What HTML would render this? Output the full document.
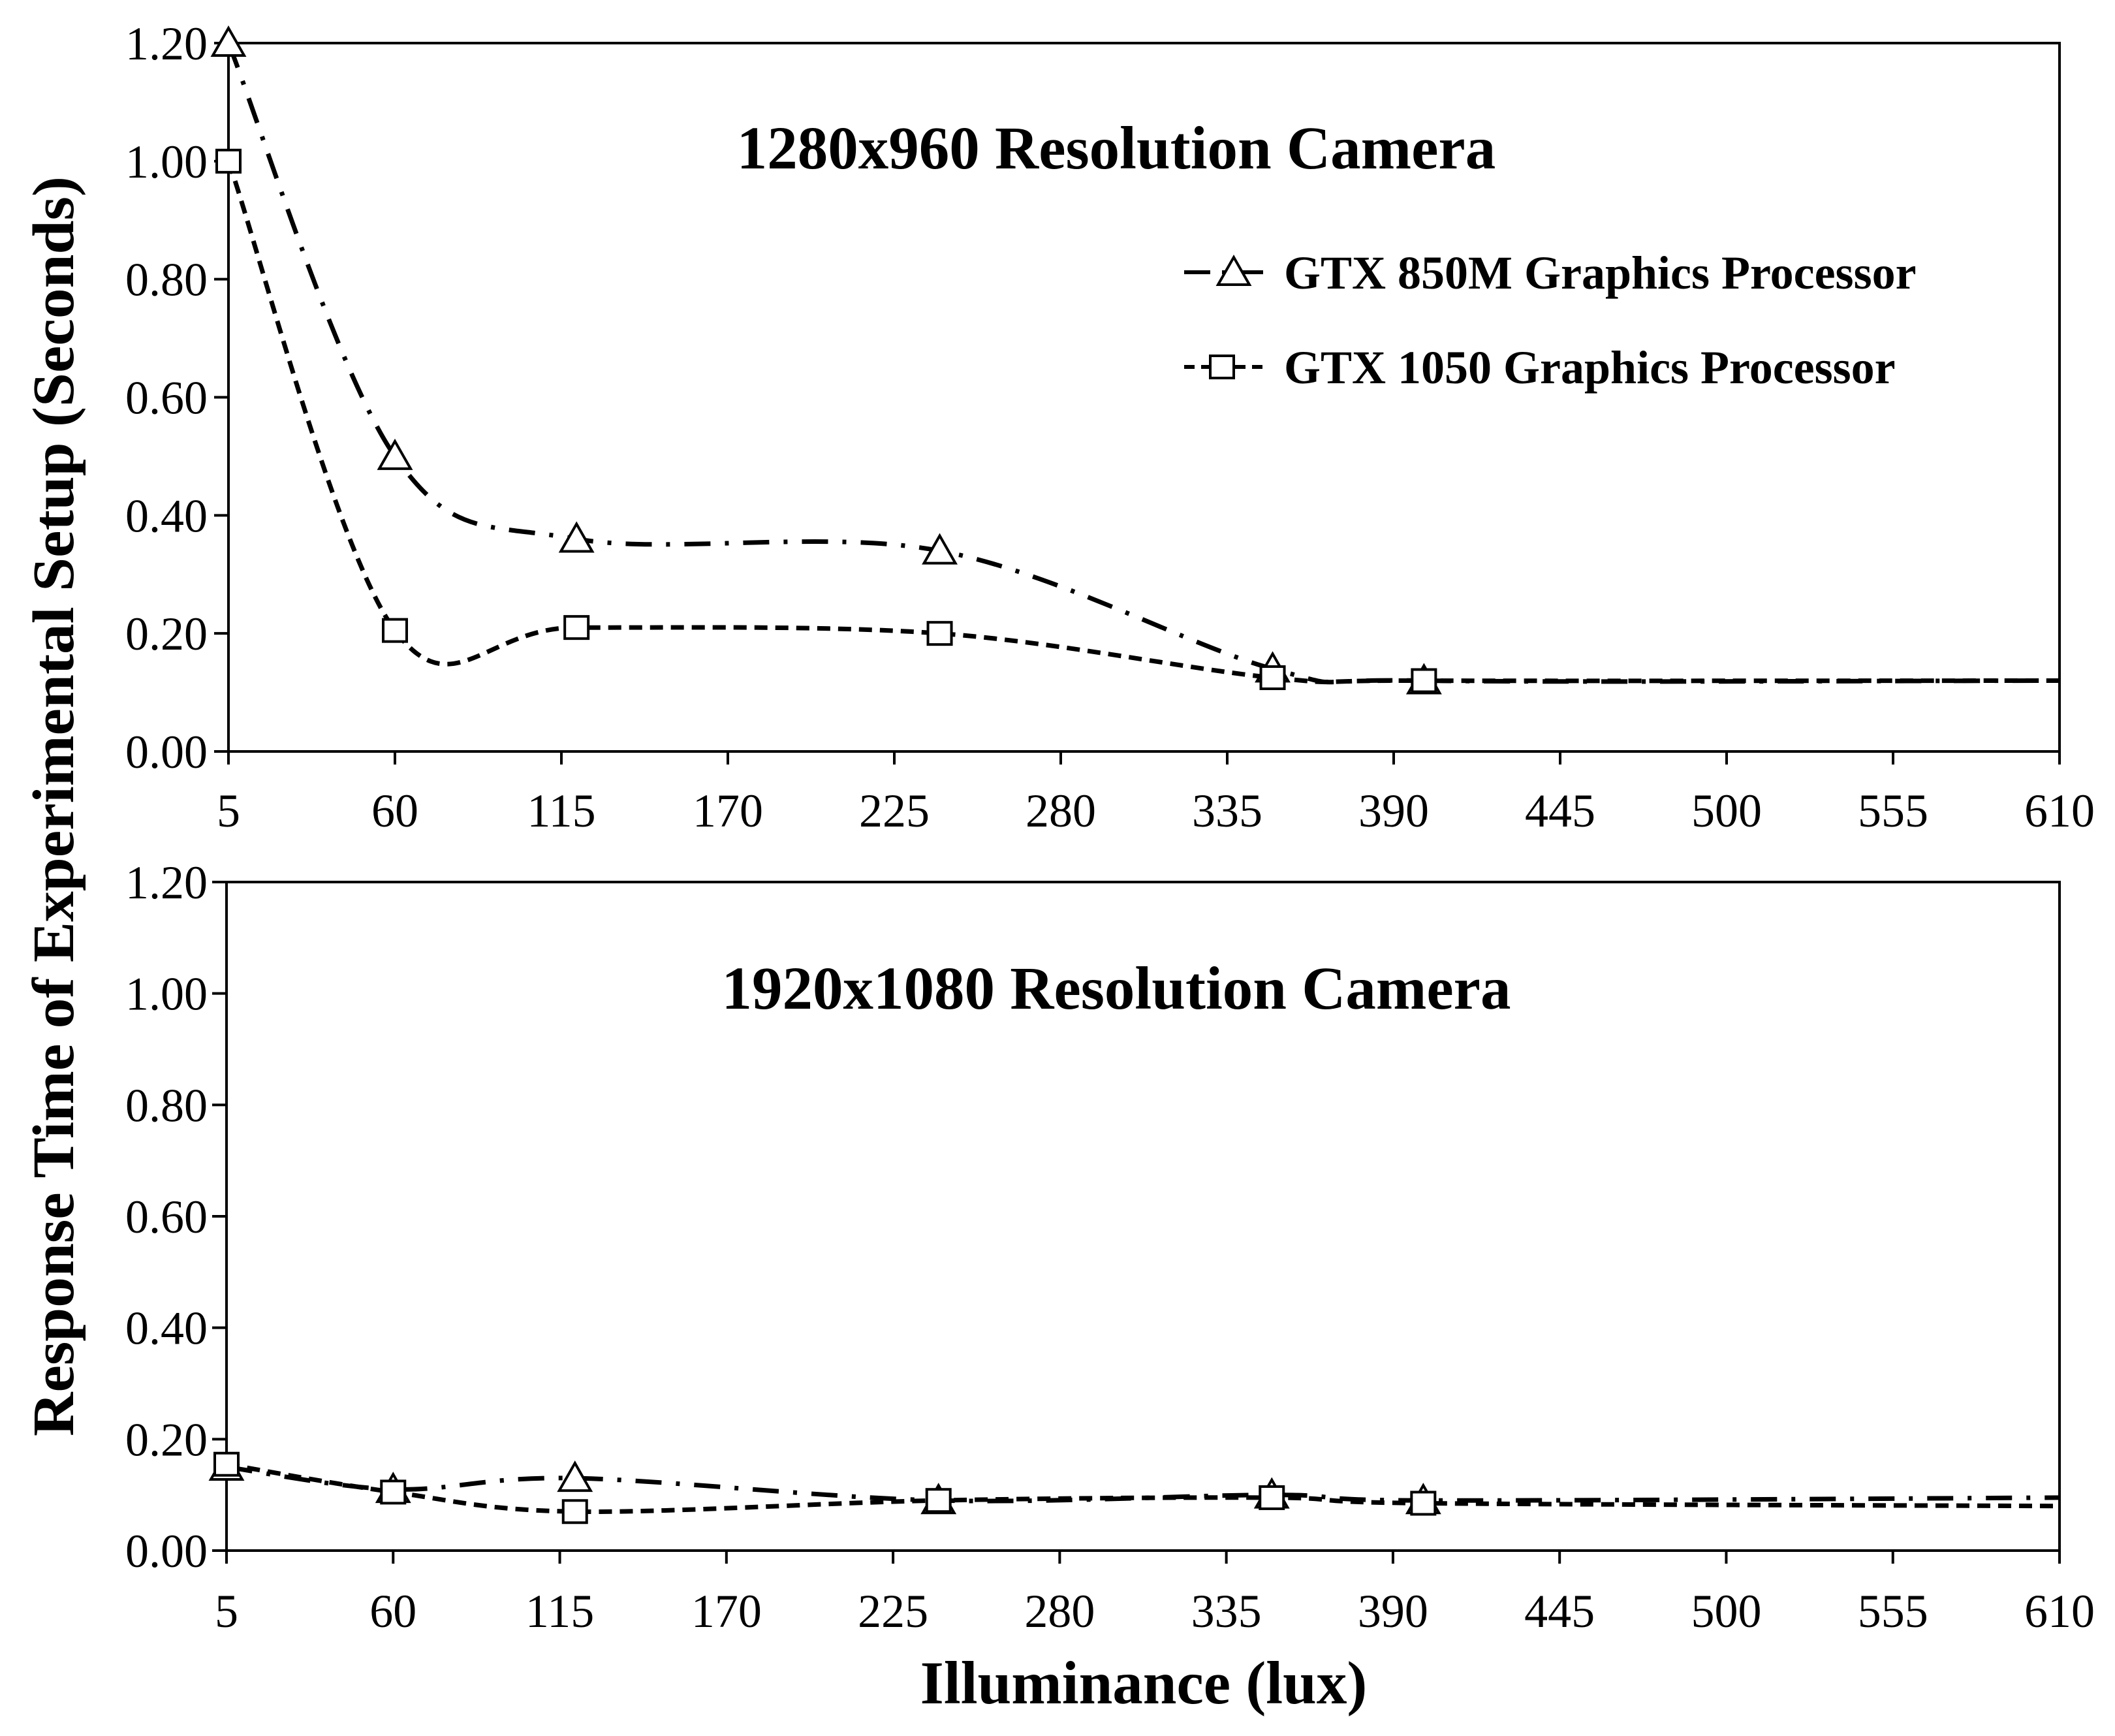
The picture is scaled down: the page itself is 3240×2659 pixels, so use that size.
<!DOCTYPE html>
<html><head><meta charset="utf-8"><style>
html,body{margin:0;padding:0;background:#fff;}
svg{display:block;}
text{font-family:"Liberation Serif",serif;fill:#000;}
</style></head><body>
<svg id="chart" width="3240" height="2659" viewBox="0 0 3240 2659" xmlns="http://www.w3.org/2000/svg"></svg>
<script>
const xTicks = [5,60,115,170,225,280,335,390,445,500,555,610];
const yTicks = [0,0.2,0.4,0.6,0.8,1.0,1.2];
const xPoints = [5,60,120,240,350,400];
const top850 = [1.20,0.50,0.36,0.34,0.14,0.12];
const top1050 = [1.00,0.205,0.21,0.20,0.125,0.12];
const topEnd850 = 0.12;
const topEnd1050 = 0.12;
const bot850 = [0.15,0.11,0.13,0.09,0.10,0.09];
const bot1050 = [0.155,0.105,0.07,0.09,0.095,0.085];
const botEnd850 = 0.095;
const botEnd1050 = 0.08;

const NS="http://www.w3.org/2000/svg";
const svg=document.getElementById('chart');
function mk(tag,attrs,parent){const e=document.createElementNS(NS,tag);for(const k in attrs)e.setAttribute(k,attrs[k]);(parent||svg).appendChild(e);return e;}

const panels=[
 {name:'top',x0:350,x1:3155,y0:1151,y1:66,title:'1280x960 Resolution Camera',titleY:258,lblY:1266,s850:top850,s1050:top1050,e850:topEnd850,e1050:topEnd1050},
 {name:'bottom',x0:347,x1:3155,y0:2375,y1:1351,title:'1920x1080 Resolution Camera',titleY:1545,lblY:2492,s850:bot850,s1050:bot1050,e850:botEnd850,e1050:botEnd1050}
];

function smooth(pts){
  let d='M'+pts[0][0]+','+pts[0][1];
  for(let i=0;i<pts.length-1;i++){
    const p0=pts[Math.max(i-1,0)],p1=pts[i],p2=pts[i+1],p3=pts[Math.min(i+2,pts.length-1)];
    const t=1/6;
    const c1=[p1[0]+(p2[0]-p0[0])*t,p1[1]+(p2[1]-p0[1])*t];
    const c2=[p2[0]-(p3[0]-p1[0])*t,p2[1]-(p3[1]-p1[1])*t];
    d+=' C'+c1[0]+','+c1[1]+' '+c2[0]+','+c2[1]+' '+p2[0]+','+p2[1];
  }
  return d;
}
function tri(g,cx,cy,name){
  const t=mk('polygon',{points:(cx-24)+','+(cy+19)+' '+(cx+24)+','+(cy+19)+' '+cx+','+(cy-23),fill:'#fff',stroke:'#000','stroke-width':4},g);
  
  
}
function sq(g,cx,cy,name){
  const r=mk('rect',{x:cx-18,y:cy-17,width:36,height:34,fill:'#fff',stroke:'#000','stroke-width':4},g);
  
  
}

panels.forEach(p=>{
  const sx=v=>p.x0+(v-5)/(605)*(p.x1-p.x0);
  const sy=v=>p.y0+(v/1.2)*(p.y1-p.y0);
  const g=mk('g',{});
  
  
  const frame=mk('rect',{x:p.x0,y:p.y1,width:p.x1-p.x0,height:p.y0-p.y1,fill:'none',stroke:'#000','stroke-width':4},g);
  
  
  yTicks.forEach(v=>{
    const y=sy(v);
    const tk=mk('line',{x1:p.x0-22,x2:p.x0,y1:y,y2:y,stroke:'#000','stroke-width':4},g);
    
    
    const t=mk('text',{x:318,y:y+25,'text-anchor':'end','font-size':72},g);
    t.textContent=v.toFixed(2);
    
    
  });
  xTicks.forEach(v=>{
    const x=sx(v);
    const tk=mk('line',{x1:x,x2:x,y1:p.y0,y2:p.y0+20,stroke:'#000','stroke-width':4},g);
    
    
    const t=mk('text',{x:x,y:p.lblY,'text-anchor':'middle','font-size':72},g);
    t.textContent=v;
    
    
  });
  const tt=mk('text',{x:1710,y:p.titleY,'text-anchor':'middle','font-size':93,'font-weight':'bold'},g);
  tt.textContent=p.title;
  
  

  const pts1050=xPoints.map((v,i)=>[sx(v),sy(p.s1050[i])]);pts1050.push([sx(610),sy(p.e1050)]);
  const pts850=xPoints.map((v,i)=>[sx(v),sy(p.s850[i])]);pts850.push([sx(610),sy(p.e850)]);
  const l1=mk('path',{d:smooth(pts1050),fill:'none',stroke:'#000','stroke-width':7,'stroke-dasharray':'20 12'},g);
  
  
  const l2=mk('path',{d:smooth(pts850),fill:'none',stroke:'#000','stroke-width':7,'stroke-dasharray':'40 22 6 22'},g);
  
  
  xPoints.forEach((v,i)=>tri(g,sx(v),sy(p.s850[i]),'gtx850m-marker'));
  xPoints.forEach((v,i)=>sq(g,sx(v),sy(p.s1050[i]),'gtx1050-marker'));
});

// legend
const lg=mk('g',{});


const ll1=mk('line',{x1:1814,x2:1935,y1:417,y2:417,stroke:'#000','stroke-width':6,'stroke-dasharray':'40 18 6 18'},lg);


tri(lg,1890,417,'legend-gtx850m-marker');
const lt1=mk('text',{x:1967,y:442,'font-size':72,'font-weight':'bold'},lg);
lt1.textContent='GTX 850M Graphics Processor';


const ll2=mk('line',{x1:1814,x2:1935,y1:562,y2:562,stroke:'#000','stroke-width':6,'stroke-dasharray':'16 10'},lg);


sq(lg,1872,562,'legend-gtx1050-marker');
const lt2=mk('text',{x:1967,y:587,'font-size':72,'font-weight':'bold'},lg);
lt2.textContent='GTX 1050 Graphics Processor';



const xt=mk('text',{x:1752,y:2609,'text-anchor':'middle','font-size':93,'font-weight':'bold'});
xt.textContent='Illuminance (lux)';


const yt=mk('text',{x:0,y:0,'text-anchor':'middle','font-size':90,'font-weight':'bold',textLength:1930,lengthAdjust:'spacingAndGlyphs',transform:'translate(112,1235) rotate(-90)'});
yt.textContent='Response Time of Experimental Setup (Seconds)';


</script>
</body></html>
